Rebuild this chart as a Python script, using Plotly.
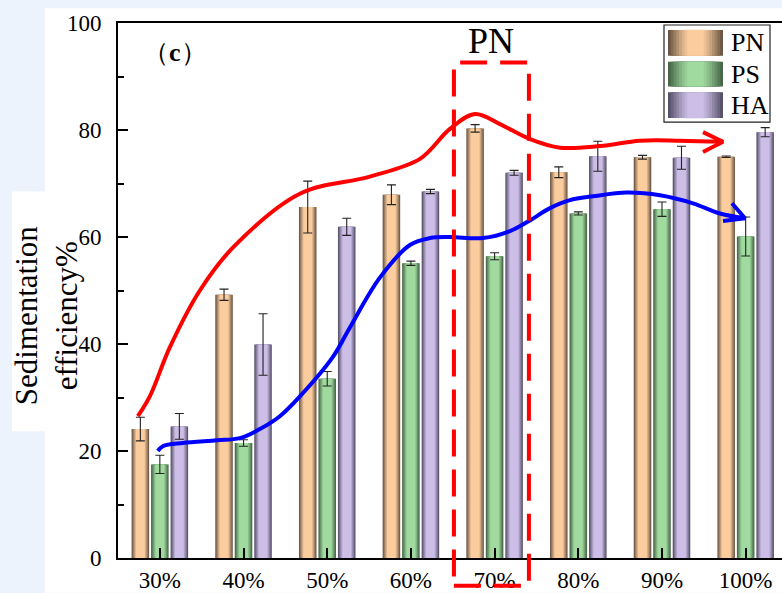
import plotly.graph_objects as go

# ---------------- data ----------------
categories = ["30%", "40%", "50%", "60%", "70%", "80%", "90%", "100%"]
series_names = ["PN", "PS", "HA"]
pn = [24.1, 49.2, 65.6, 67.9, 80.3, 72.1, 74.9, 75.0]
pn_err = [2.2, 1.05, 4.85, 1.85, 0.7, 1.0, 0.35, 0.15]
ps = [17.5, 21.5, 33.5, 55.1, 56.4, 64.4, 65.2, 60.1]
ps_err = [1.7, 0.6, 1.35, 0.4, 0.65, 0.3, 1.35, 3.65]
ha = [24.6, 39.9, 61.9, 68.5, 72.0, 75.1, 74.8, 79.6]
ha_err = [2.4, 5.75, 1.6, 0.4, 0.45, 2.8, 2.15, 0.85]

# hand-drawn trend guide curves (category index, value)
red_x = [-0.263, -0.120, 0.120, 0.478, 0.872, 1.673, 2.510, 3.108, 3.466, 3.765,
         4.064, 4.423, 4.781, 5.259, 5.737, 6.215, 6.729]
red_y = [26.5, 30.2, 39.4, 50.0, 58.0, 68.1, 71.3, 74.6, 80.2, 83.0,
         81.1, 78.3, 76.7, 77.0, 78.0, 78.0, 77.8]
red_head_x = [6.490, 6.729, 6.490]
red_head_y = [79.6, 77.8, 75.9]
blue_x = [-0.024, 0.036, 0.275, 0.681, 0.956, 1.195, 1.434, 1.673, 2.068, 2.271,
          2.629, 2.988, 3.227, 3.466, 3.860, 4.183, 4.422, 4.661, 4.900, 5.175,
          5.581, 5.976, 6.370, 6.693, 6.992]
blue_y = [20.0, 20.9, 21.5, 22.0, 22.4, 24.1, 26.5, 30.2, 37.6, 43.1,
          52.4, 58.5, 59.8, 60.0, 59.8, 61.1, 63.1, 65.4, 66.9, 67.6,
          68.3, 67.8, 66.3, 64.4, 63.5]
blue_head_x = [6.836, 6.992, 6.729]
blue_head_y = [66.3, 63.5, 63.0]
# highlighted region (category index / value)
box_x = [3.514, 4.410]
box_y = [-5.2, 92.6]
box_label = "PN"
panel_label = "（<b>c</b>）"
y_title = "Sedimentation<br>efficiency%"

# ---------------- style ----------------
FONT = "Liberation Serif"
light = {"PN": (251, 205, 158), "PS": (160, 218, 158), "HA": (204, 190, 230)}
dark = {"PN": (92, 74, 60), "PS": (62, 90, 64), "HA": (74, 70, 92)}
offsets = {"PN": -0.233, "PS": 0.0, "HA": 0.233}
BAR_W = 0.21
layer_frac = [1.0, 0.86, 0.73, 0.61, 0.50]
layer_mix = [0.85, 0.6, 0.38, 0.18, 0.0]

X_RANGE = [-0.5, 7.434]
Y_RANGE = [0, 100]
L, R, T, B = 118, 0, 23, 30
W, H = 782, 593
PW, PH = W - L - R, H - T - B


def mix(c1, c2, t):
    return "rgb(%d,%d,%d)" % tuple(round(a * (1 - t) + b * t) for a, b in zip(c1, c2))


def px_x(px):
    return (px - L) / PW


def px_y(py):
    return (H - B - py) / PH


def dx(v):
    return (v - X_RANGE[0]) / (X_RANGE[1] - X_RANGE[0])


def dy(v):
    return (v - Y_RANGE[0]) / (Y_RANGE[1] - Y_RANGE[0])


values = {"PN": pn, "PS": ps, "HA": ha}
errors = {"PN": pn_err, "PS": ps_err, "HA": ha_err}

fig = go.Figure()
idx = list(range(len(categories)))
for name in series_names:
    xs = [i + offsets[name] for i in idx]
    for f, t in zip(layer_frac, layer_mix):
        fig.add_trace(go.Bar(
            x=xs, y=values[name], width=BAR_W * f, name=name,
            marker=dict(color=mix(light[name], dark[name], t), line=dict(width=0)),
            showlegend=False, hoverinfo="skip" if f != 1.0 else None,
        ))
for name in series_names:
    xs = [i + offsets[name] for i in idx]
    fig.add_trace(go.Scatter(
        x=xs, y=values[name], mode="markers", marker=dict(opacity=0, size=1),
        error_y=dict(type="data", array=errors[name], color="#222222",
                     thickness=1.1, width=4.5),
        showlegend=False, name=name,
    ))

# trend curves
fig.add_trace(go.Scatter(x=red_x, y=red_y, mode="lines",
                         line=dict(color="#ff0000", width=4, shape="spline", smoothing=1.0),
                         showlegend=False, hoverinfo="skip"))
fig.add_trace(go.Scatter(x=red_head_x, y=red_head_y, mode="lines",
                         line=dict(color="#ff0000", width=4), showlegend=False, hoverinfo="skip"))
fig.add_trace(go.Scatter(x=blue_x, y=blue_y, mode="lines",
                         line=dict(color="#0000ff", width=4, shape="spline", smoothing=1.0),
                         showlegend=False, hoverinfo="skip"))
fig.add_trace(go.Scatter(x=blue_head_x, y=blue_head_y, mode="lines",
                         line=dict(color="#0000ff", width=4), showlegend=False, hoverinfo="skip"))

shapes = []
# white backgrounds of the figure
shapes.append(dict(type="rect", xref="paper", yref="paper", layer="below",
                   x0=px_x(45), x1=px_x(W + 5), y0=px_y(H + 5), y1=px_y(8),
                   fillcolor="white", line=dict(width=0)))
shapes.append(dict(type="rect", xref="paper", yref="paper", layer="below",
                   x0=px_x(12), x1=px_x(60), y0=px_y(435), y1=px_y(193),
                   fillcolor="white", line=dict(width=0)))
# dashed highlight box
shapes.append(dict(type="rect", xref="paper", yref="paper", layer="above",
                   x0=dx(box_x[0]), x1=dx(box_x[1]), y0=dy(box_y[0]), y1=dy(box_y[1]),
                   line=dict(color="#ff0000", width=4, dash="27px,13px"),
                   fillcolor="rgba(0,0,0,0)"))
# custom legend
shapes.append(dict(type="rect", xref="paper", yref="paper", layer="above",
                   x0=px_x(664), x1=px_x(770), y0=px_y(123), y1=px_y(25),
                   fillcolor="white", line=dict(color="#222222", width=1.2)))
annotations = []
sw_rows = [(30, 56), (62, 87), (93, 119)]
sw_frac = [1.0, 0.9, 0.8, 0.7, 0.6, 0.5, 0.4, 0.3]
sw_mix = [0.9, 0.75, 0.6, 0.46, 0.32, 0.2, 0.09, 0.0]
for name, (ya, yb) in zip(series_names, sw_rows):
    x0p, x1p = 668, 723
    cx = (x0p + x1p) / 2
    half = (x1p - x0p) / 2
    for f, t in zip(sw_frac, sw_mix):
        shapes.append(dict(type="rect", xref="paper", yref="paper", layer="above",
                           x0=px_x(cx - half * f), x1=px_x(cx + half * f),
                           y0=px_y(yb), y1=px_y(ya),
                           fillcolor=mix(light[name], dark[name], t), line=dict(width=0)))
    annotations.append(dict(xref="paper", yref="paper", x=px_x(729), y=px_y((ya + yb) / 2),
                            text=name, showarrow=False, xanchor="left", yanchor="middle",
                            font=dict(family=FONT, size=26, color="black")))

annotations.append(dict(xref="paper", yref="paper", x=px_x(491), y=px_y(41),
                        text=box_label, showarrow=False, xanchor="center", yanchor="middle",
                        font=dict(family=FONT, size=36, color="black")))
annotations.append(dict(xref="paper", yref="paper", x=px_x(175), y=px_y(53),
                        text=panel_label, showarrow=False, xanchor="center", yanchor="middle",
                        font=dict(family=FONT, size=26, color="black")))
annotations.append(dict(xref="paper", yref="paper", x=px_x(46), y=px_y(318),
                        text=y_title, showarrow=False, textangle=-90,
                        xanchor="center", yanchor="middle",
                        font=dict(family=FONT, size=31, color="black")))

fig.update_layout(
    width=W, height=H,
    margin=dict(l=L, r=R, t=T, b=B, pad=0),
    paper_bgcolor="#edf3fc", plot_bgcolor="white",
    barmode="overlay",
    showlegend=False,
    shapes=shapes, annotations=annotations,
    font=dict(family=FONT, color="black"),
    xaxis=dict(range=X_RANGE, tickmode="array", tickvals=idx, ticktext=categories,
               ticks="inside", ticklen=10, tickwidth=1.5, tickcolor="black",
               showline=True, linewidth=2, linecolor="black", mirror=True,
               showgrid=False, zeroline=False,
               tickfont=dict(family=FONT, size=23, color="black")),
    yaxis=dict(range=Y_RANGE, dtick=20, tick0=0,
               ticks="inside", ticklen=10, tickwidth=1.5, tickcolor="black",
               minor=dict(ticks="inside", ticklen=6, dtick=10, tickcolor="black", tickwidth=1.5),
               showline=True, linewidth=2, linecolor="black",
               showgrid=False, zeroline=False, ticklabelstandoff=10,
               tickfont=dict(family=FONT, size=23, color="black")),
)

fig.write_html("out.html")
